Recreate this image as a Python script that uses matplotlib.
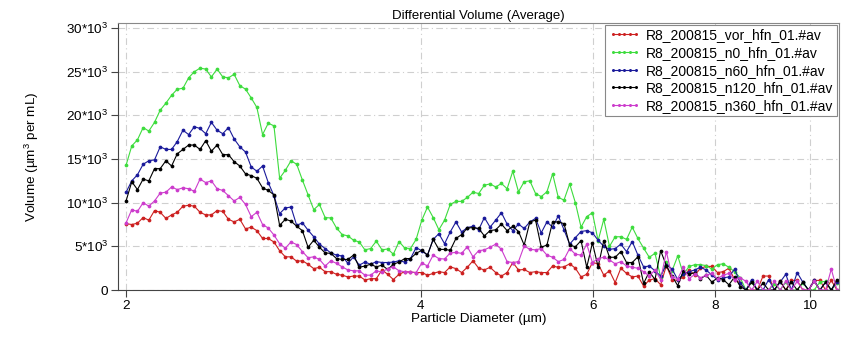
import numpy as np
import matplotlib
matplotlib.use("Agg")
import matplotlib.pyplot as plt
from matplotlib.ticker import FixedLocator, FixedFormatter, NullLocator

plt.rcParams['font.family'] = ['Liberation Sans', 'DejaVu Sans']
plt.rcParams['mathtext.fontset'] = 'custom'
plt.rcParams['mathtext.rm'] = 'Liberation Sans'
plt.rcParams['mathtext.it'] = 'Liberation Sans:italic'

# volumes in units of 10^3 um^3 per mL, one value per size channel
red_k = [7.6, 7.5, 7.65, 8.3, 8.0, 9.1, 8.9, 8.2, 8.6, 8.9, 9.6, 9.7, 9.6, 8.9, 8.6, 8.6, 9.1, 9.0, 8.1, 7.8,
         8.1, 7.0, 7.2, 6.8, 5.9, 5.9, 5.5, 4.5, 3.8, 3.8, 3.3,
         3.35, 2.95, 2.45, 2.6, 2.1, 2.1, 1.8, 1.7, 1.5, 1.6, 1.6, 1.15, 1.3, 1.3, 2.3, 1.8, 1.2, 1.8, 2.1,
         2.05, 2.0, 2.0, 1.7, 1.9, 2.1, 2.0, 2.65, 2.45, 2.0, 2.6, 3.35,
         2.5, 2.3, 2.6, 2.0, 1.6, 2.0, 3.15, 2.3, 2.35, 2.0, 2.1, 2.0, 2.0, 2.75, 2.6, 2.65, 3.0, 2.5,
         1.5, 1.8, 3.15, 3.0, 1.7, 2.2, 0.85, 2.5, 1.9, 1.5, 1.6, 0.45, 1.15,
         1.3, 0.6, 2.8, 1.2, 1.1, 1.5, 2.3, 1.7, 2.5, 2.7, 2.7, 2.0, 2.1, 2.5, 1.2, 0.8, 0.0, 0.0, 0.0,
         1.6, 1.6, 0.0, 1.0, 0.0, 1.1, 1.1, 0.0, 0.0, 1.1, 1.1, 0.0, 1.1, 0.0]
green_k = [14.3, 16.5, 17.2, 18.6, 18.2, 19.2, 20.6, 21.4, 22.3, 23.0, 23.1, 24.3, 25.0, 25.4, 25.3, 24.4,
           25.3, 24.4, 24.3, 24.7, 23.4, 23.0, 22.0, 20.9, 17.8, 19.1, 18.8, 12.8, 13.7, 14.8, 14.4,
           12.6, 10.9, 9.2, 9.8, 8.3, 8.25, 7.1, 6.35, 6.2, 5.7, 5.5, 4.6, 4.75, 5.6, 4.6, 4.7, 4.1, 5.55,
           4.8, 4.75, 5.8, 8.0, 9.5, 8.3, 6.9, 8.0, 9.8, 10.15, 10.15, 10.6, 11.2,
           11.05, 12.0, 12.15, 11.8, 12.2, 11.6, 13.6, 11.25, 12.4, 12.5, 11.05, 10.7, 11.25, 13.3, 10.6,
           10.3, 12.15, 10.0, 7.2, 8.4, 8.85, 5.65, 8.1, 5.0, 6.1, 6.1, 5.8, 7.2, 5.9, 4.8, 3.75,
           4.2, 1.5, 3.2, 2.2, 3.9, 1.8, 2.7, 2.9, 2.9, 2.8, 2.4, 2.9, 3.0, 2.6, 2.1, 1.4, 0.0, 0.9, 0.0,
           0.0, 0.0, 0.7, 0.0, 0.9, 0.0, 0.0, 0.8, 0.0, 0.0, 0.9, 1.0, 0.0, 0.8]
blue_k = [11.2, 12.5, 13.2, 14.4, 14.8, 14.9, 16.4, 16.1, 16.1, 17.0, 18.3, 17.8, 18.7, 18.5, 17.9, 19.2,
          18.3, 17.9, 18.6, 17.3, 16.4, 15.8, 14.1, 13.6, 14.2, 12.3, 10.8, 8.75, 9.4, 9.5, 7.4,
          7.7, 6.85, 6.1, 5.25, 4.75, 4.25, 4.0, 3.9, 3.05, 3.8, 2.85, 3.2, 2.95, 3.25, 3.15, 3.15, 3.2,
          3.35, 3.2, 3.6, 4.85, 4.5, 4.0, 5.8, 6.45, 5.3, 6.65, 7.8, 6.65, 7.15, 7.3,
          6.9, 8.3, 7.2, 8.0, 8.85, 7.55, 6.8, 7.55, 7.05, 7.8, 8.2, 6.55, 7.8, 7.2, 8.5, 6.9, 5.25, 6.0,
          6.7, 6.8, 6.55, 5.7, 5.0, 4.65, 4.75, 5.25, 4.4, 5.55, 4.0, 2.65, 2.75,
          2.2, 1.6, 2.9, 2.4, 1.2, 1.8, 2.1, 2.3, 2.6, 2.3, 1.7, 1.2, 1.4, 1.5, 2.4, 0.8, 0.0, 1.2, 0.0,
          0.0, 1.2, 0.0, 0.9, 1.8, 0.0, 2.0, 0.9, 0.0, 1.1, 0.0, 0.9, 0.0, 0.9]
black_k = [10.2, 12.4, 11.5, 12.7, 12.5, 13.9, 13.9, 14.8, 14.2, 15.6, 16.1, 16.6, 16.6, 16.1, 17.1, 15.9,
           16.6, 15.5, 15.5, 14.7, 14.2, 13.3, 13.1, 12.8, 11.7, 11.4, 10.9, 7.4, 8.1, 7.9, 7.3,
           6.8, 4.9, 5.7, 4.9, 4.25, 4.2, 3.6, 3.5, 3.5, 4.0, 2.6, 2.75, 2.95, 2.65, 2.85, 2.35, 2.95, 3.2,
           3.6, 3.6, 4.2, 4.55, 4.0, 5.8, 4.65, 4.65, 4.55, 5.9, 6.35, 7.1, 7.15,
           7.05, 6.2, 6.8, 6.9, 7.55, 6.8, 7.3, 6.7, 5.15, 7.8, 8.0, 4.9, 5.15, 7.8, 7.8, 7.6, 5.15, 4.95,
           5.65, 2.6, 5.4, 2.65, 5.65, 3.75, 3.75, 4.4, 3.15, 3.15, 3.8, 0.75, 2.1,
           1.2, 4.5, 2.8, 1.6, 0.5, 2.2, 1.8, 2.0, 1.3, 1.7, 0.9, 1.4, 1.2, 0.6, 1.5, 0.4, 0.0, 0.9, 0.0,
           0.8, 0.0, 0.0, 1.0, 0.0, 0.9, 0.0, 0.9, 0.0, 1.0, 0.0, 0.9, 0.0, 1.2]
magenta_k = [7.7, 9.2, 9.0, 10.0, 9.6, 10.2, 11.1, 11.2, 11.8, 11.5, 11.7, 11.6, 11.3, 12.7, 12.3, 12.5,
             11.6, 11.4, 10.8, 10.2, 10.6, 9.8, 8.4, 8.9, 7.5, 7.1, 6.3, 5.3, 4.8, 5.5, 5.2,
             4.4, 3.7, 3.8, 3.5, 2.75, 3.35, 3.05, 2.65, 2.3, 2.2, 2.2, 1.7, 1.7, 2.2, 2.05, 2.45, 2.65,
             2.2, 2.1, 2.05, 2.0, 3.1, 2.75, 4.0, 3.6, 3.55, 4.25, 4.3, 4.2, 4.95, 3.8,
             4.5, 4.6, 4.9, 5.25, 4.65, 3.25, 3.15, 3.25, 5.05, 4.65, 4.6, 4.75, 4.0, 3.75, 3.25, 3.5,
             4.75, 4.1, 4.0, 5.25, 3.15, 3.6, 3.75, 3.45, 3.0, 3.25, 2.75, 2.6, 2.5, 2.1, 1.6,
             2.3, 1.2, 4.4, 1.5, 1.3, 2.6, 1.3, 1.8, 1.4, 1.7, 1.9, 1.3, 1.7, 1.9, 1.2, 1.4, 1.0, 0.0, 1.0,
             0.0, 0.0, 1.0, 0.0, 1.0, 0.0, 1.0, 0.0, 0.0, 1.0, 0.0, 0.0, 2.4, 0.0]

labels = ["R8_200815_vor_hfn_01.#av", "R8_200815_n0_hfn_01.#av", "R8_200815_n60_hfn_01.#av",
          "R8_200815_n120_hfn_01.#av", "R8_200815_n360_hfn_01.#av"]
colors = ["#cc2020", "#3ddc3d", "#1a1a9a", "#000000", "#cc3ccc"]

# log-spaced size channels (um)
diam = np.geomspace(2.0, 10.66, len(red_k))

xticks = [2, 4, 6, 8, 10]
yticks = [0, 5, 10, 15, 20, 25, 30]
yticklabels = ["0"] + [f"{v}*10$^{{3}}$" for v in yticks[1:]]

fig = plt.figure(figsize=(8.5, 3.4), dpi=100)
ax = fig.add_axes([0.139, 0.147, 0.848, 0.786])

for ys, lab, c in zip([red_k, green_k, blue_k, black_k, magenta_k], labels, colors):
    ax.plot(diam, ys, color=c, lw=0.8, marker='o', ms=2.7, mew=0, mfc=c, label=lab)

ax.set_xscale('log')
ax.set_xlim(1.963, 10.71)
ax.set_ylim(0, 30.6)
ax.xaxis.set_major_locator(FixedLocator(xticks))
ax.xaxis.set_major_formatter(FixedFormatter([str(t) for t in xticks]))
ax.xaxis.set_minor_locator(NullLocator())
ax.set_yticks(yticks)
ax.set_yticklabels(yticklabels)
ax.tick_params(labelsize=9.7, length=5, width=0.8, color='#444444', pad=2)

ax.grid(True, color='#cfcfcf', lw=0.8, ls=(0, (6, 3, 1, 3)))
ax.set_axisbelow(True)
for s in ['left', 'bottom']:
    ax.spines[s].set_color('#444444')
for s in ['top', 'right']:
    ax.spines[s].set_color('#888888')

ax.set_xlabel("Particle Diameter (µm)", fontsize=9.7, labelpad=1)
ax.set_ylabel("Volume (µm$^{3}$ per mL)", fontsize=9.7, labelpad=18)
ax.set_title("Differential Volume (Average)", fontsize=9.5, pad=3)

leg = ax.legend(loc='upper right', fontsize=10, numpoints=5, handlelength=2.3, labelspacing=0.26,
                borderaxespad=0.15, fancybox=False, framealpha=1, edgecolor='#888888',
                handletextpad=0.4, borderpad=0.25, markerscale=0.8)
leg.get_frame().set_linewidth(0.8)

fig.savefig("out.png", dpi=100)
